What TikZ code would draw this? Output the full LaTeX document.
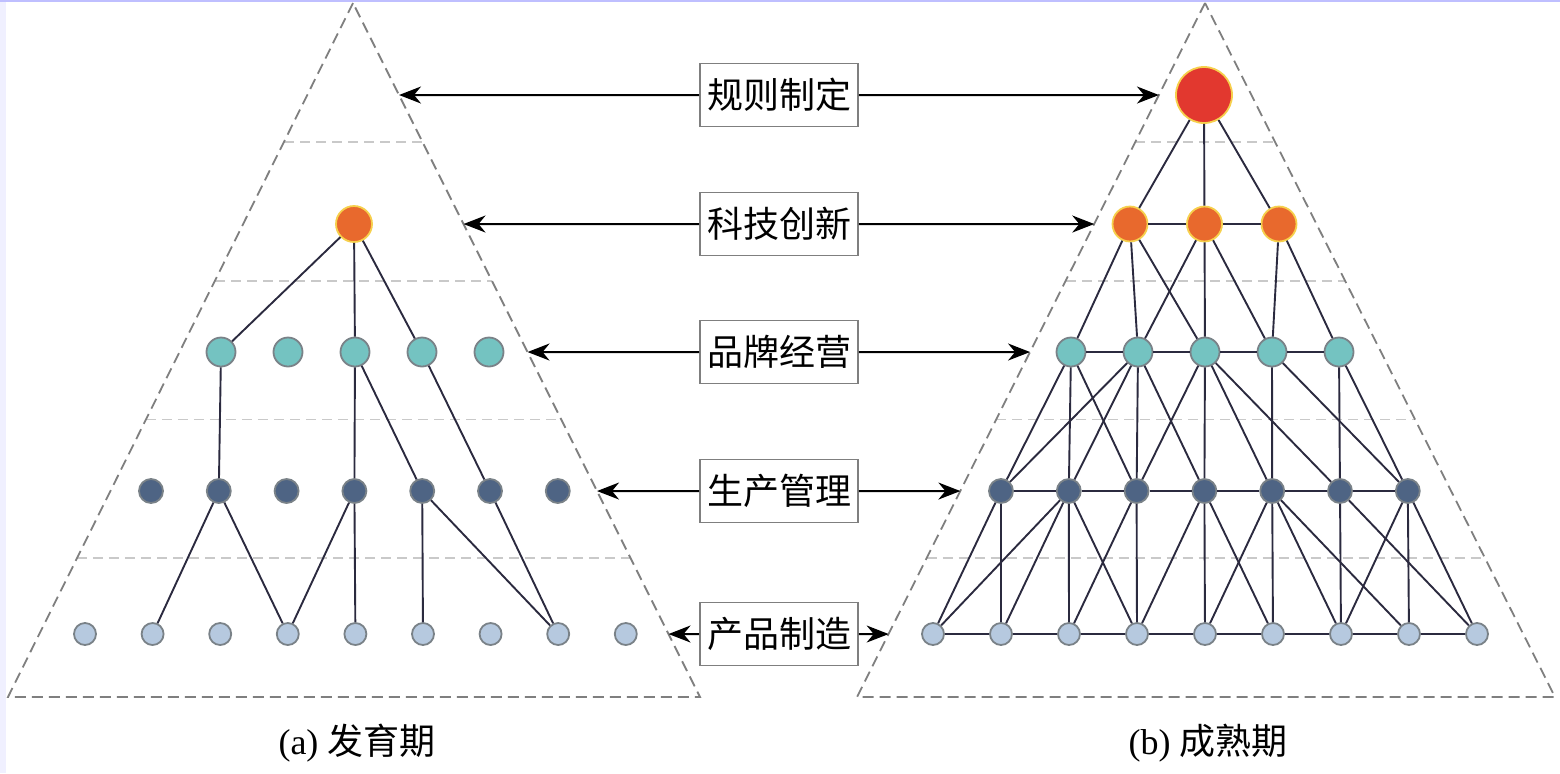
\documentclass[tikz,border=0pt]{standalone}
\usepackage{fontspec}
\setmainfont{Liberation Serif}
\newfontfamily\cjk{Noto Sans CJK SC}
\usetikzlibrary{arrows.meta, calc}
\definecolor{rule fill}{HTML}{E2382F}
\definecolor{tech fill}{HTML}{E8692D}
\definecolor{brand fill}{HTML}{74C3C1}
\definecolor{prod fill}{HTML}{4E6484}
\definecolor{make fill}{HTML}{B6C9DF}
\definecolor{warm ring}{HTML}{F6D04C}
\definecolor{cool ring}{HTML}{7A8288}
\definecolor{link col}{HTML}{2B2A3F}
\definecolor{pyr col}{HTML}{7F7F7F}
\definecolor{band col}{HTML}{C9C9C9}
\tikzset{
  dot/.style={circle, inner sep=0pt, line width=0.9pt},
  rule/.style={dot, fill=rule fill, draw=warm ring, minimum size=28pt},
  tech/.style={dot, fill=tech fill, draw=warm ring, minimum size=17.5pt},
  brand/.style={dot, fill=brand fill, draw=cool ring, minimum size=14.5pt},
  prod/.style={dot, fill=prod fill, draw=cool ring, minimum size=12pt},
  make/.style={dot, fill=make fill, draw=cool ring, minimum size=11pt},
  link/.style={draw=link col, line width=0.95pt},
  pyr/.style={draw=pyr col, line width=0.9pt, dash pattern=on 5.5pt off 3pt},
  band/.style={draw=band col, line width=0.9pt, dash pattern=on 5pt off 3pt},
  lvlbox/.style={draw=pyr col, line width=0.9pt, fill=white, minimum width=79pt,
    minimum height=31.5pt, inner sep=0pt, font=\cjk\fontsize{18pt}{21pt}\selectfont},
  arr/.style={-{Stealth[length=11pt, width=8.5pt, inset=3.5pt]}, line width=1pt},
  captext/.style={inner sep=0pt, font=\fontsize{18pt}{21pt}\selectfont}
}
\begin{document}
\begin{tikzpicture}[x=0.5pt, y=-0.5pt]
    \useasboundingbox (0,0) rectangle (1560,773);
    \fill[blue!6] (0,0) rectangle (6,773);
    \draw[blue!25, line width=0.6pt] (0,1) -- (1560,1);
    % the two pyramids
    \coordinate (ltop) at (353,3);
    \coordinate (lbl) at (8,697);
    \coordinate (lbr) at (700,697);
    \coordinate (rtop) at (1205,3);
    \coordinate (rbl) at (857,697);
    \coordinate (rbr) at (1555,697);
    \foreach \k in {0.2,0.4,0.6,0.8} {
        \draw[band] ($(ltop)!\k!(lbl)$) -- ($(ltop)!\k!(lbr)$);
        \draw[band] ($(rtop)!\k!(rbl)$) -- ($(rtop)!\k!(rbr)$);
    }
    \draw[pyr] (ltop) -- (lbl) -- (lbr) -- cycle;
    \draw[pyr] (rtop) -- (rbl) -- (rbr) -- cycle;
    % (a) left network
    \node[tech, minimum size=18pt] (lo) at (354,224) {};
    \foreach \i in {1,...,5} \node[brand] (lt\i) at ({221+67*(\i-1)},352) {};
    \foreach \i in {1,...,7} \node[prod] (ld\i) at ({151+67.8*(\i-1)},491) {};
    \foreach \i in {1,...,9} \node[make] (ll\i) at ({85+67.6*(\i-1)},634) {};
    \foreach \a/\b in {lo/lt1, lo/lt3, lo/lt4, lt1/ld2, lt3/ld4, lt3/ld5, lt4/ld6,
        ld2/ll2, ld2/ll4, ld4/ll4, ld4/ll5, ld5/ll6, ld5/ll8, ld6/ll8}
        \draw[link] (\a) -- (\b);
    % (b) right network
    \node[rule] (rr) at (1204,95) {};
    \foreach \i in {1,2,3} \node[tech] (ro\i) at ({1130+74.5*(\i-1)},224) {};
    \foreach \i in {1,...,5} \node[brand] (rt\i) at ({1071+67*(\i-1)},352) {};
    \foreach \i in {1,...,7} \node[prod] (rd\i) at ({1001+67.8*(\i-1)},491) {};
    \foreach \i in {1,...,9} \node[make] (rl\i) at ({933+68*(\i-1)},634) {};
    \foreach \i [count=\j from 2] in {1,2} \draw[link] (ro\i) -- (ro\j);
    \foreach \i [count=\j from 2] in {1,...,4} \draw[link] (rt\i) -- (rt\j);
    \foreach \i [count=\j from 2] in {1,...,6} \draw[link] (rd\i) -- (rd\j);
    \foreach \i [count=\j from 2] in {1,...,8} \draw[link] (rl\i) -- (rl\j);
    \foreach \a/\b in {rr/ro1, rr/ro2, rr/ro3,
        ro1/rt1, ro1/rt2, ro1/rt3, ro2/rt2, ro2/rt3, ro2/rt4, ro3/rt4, ro3/rt5,
        rt1/rd1, rt1/rd2, rt1/rd3, rt2/rd1, rt2/rd2, rt2/rd3, rt2/rd4,
        rt3/rd3, rt3/rd4, rt3/rd5, rt3/rd6, rt4/rd5, rt4/rd7, rt5/rd6, rt5/rd7,
        rd1/rl1, rd1/rl2, rd2/rl1, rd2/rl2, rd2/rl3, rd2/rl4, rd3/rl3, rd3/rl4,
        rd4/rl4, rd4/rl5, rd4/rl6, rd5/rl5, rd5/rl6, rd5/rl7, rd5/rl8,
        rd6/rl7, rd6/rl9, rd7/rl7, rd7/rl8, rd7/rl9}
        \draw[link] (\a) -- (\b);
    % level boxes and arrows
    \foreach \n/\y/\t in {1/95/规则制定, 2/224/科技创新, 3/352/品牌经营, 4/491/生产管理, 5/634/产品制造} {
        \node[lvlbox] (b\n) at (779,\y) {\t};
        \draw[arr] (b\n.west) -- (intersection of b\n.west--b\n.east and ltop--lbr);
        \draw[arr] (b\n.east) -- (intersection of b\n.west--b\n.east and rtop--rbl);
    }
    \node[captext] (capa) at (357,743) {(a) {\cjk 发育期}};
    \node[captext] (capb) at (1208,743) {(b) {\cjk 成熟期}};
\end{tikzpicture}
\end{document}
